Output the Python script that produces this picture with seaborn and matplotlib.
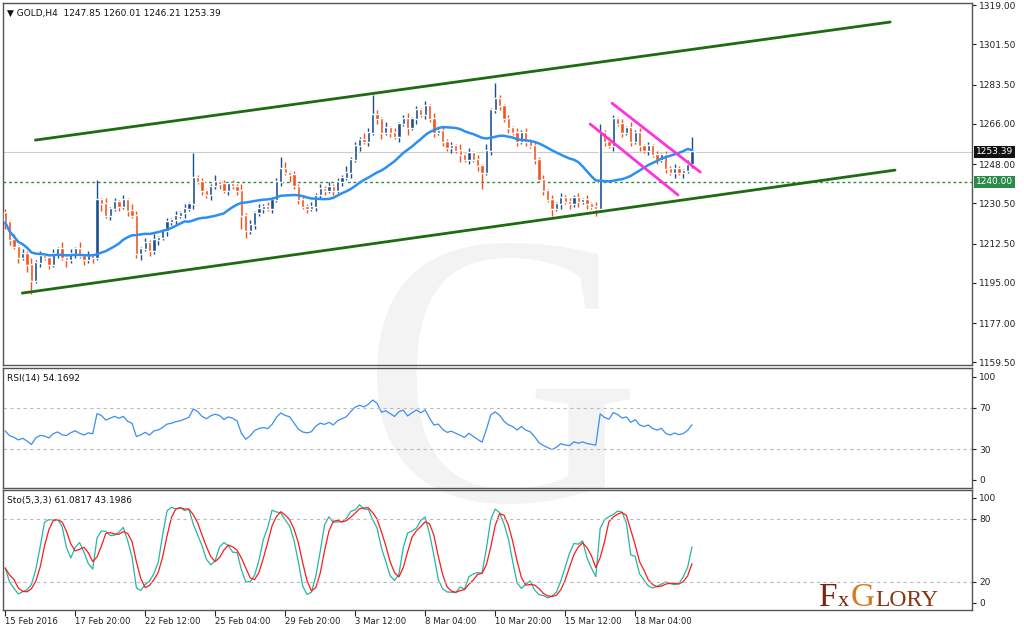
import numpy as np
import pandas as pd
import matplotlib
matplotlib.use("Agg")
import matplotlib.pyplot as plt
import matplotlib.transforms as mtrans
import seaborn as sns

closes = [1222,1214,1211,1206,1208,1203,1196,1204,1207,1206,
          1203,1208,1210,1206,1205,1208,1210,1207,1205,1207,
          1206,1232,1230,1225,1228,1231,1229,1232,1227,1225,
          1208,1210,1213,1209,1214,1215,1218,1222,1223,1225,
          1226,1228,1230,1242,1240,1236,1234,1238,1240,1239,
          1236,1239,1238,1236,1225,1218,1221,1226,1228,1229,
          1228,1232,1240,1246,1244,1243,1238,1232,1229,1228,
          1229,1234,1237,1236,1238,1236,1240,1242,1244,1250,
          1256,1259,1258,1262,1270,1268,1262,1264,1262,1260,
          1266,1268,1264,1268,1272,1270,1274,1268,1262,1263,
          1258,1255,1256,1254,1252,1250,1253,1250,1247,1244,
          1254,1272,1277,1274,1268,1264,1262,1258,1262,1258,
          1256,1250,1241,1236,1232,1228,1230,1233,1231,1230,
          1233,1231,1232,1230,1229,1228,1262,1258,1256,1268,
          1266,1262,1264,1258,1262,1256,1254,1256,1252,1250,
          1252,1246,1244,1246,1244,1245,1247.85,1253.39]
first_open = 1226.0
wick_up = [2,1,3,1,2,1,3,1,2,1, 1,2,1,3,1,2,1,3,1,2,
           1,9,1,3,1,2,1,2,1,3, 2,1,2,1,3,1,1,2,1,2,
           1,2,1,11,1,2,1,1,3,1, 2,1,2,1,3,1,2,1,2,1,
           2,1,2,5,3,1,2,1,2,1, 2,1,2,1,2,1,2,1,3,1,
           2,1,3,2,9,2,1,3,1,2, 1,2,3,1,2,1,2,1,3,1,
           2,1,2,1,3,1,2,1,2,1, 3,1,7,2,1,2,1,2,1,2,
           1,2,1,2,1,2,1,2,1,2, 1,2,1,2,1,2,4,1,2,2,
           1,2,1,3,1,2,1,2,1,2, 1,2,1,2,1,1,2,6.62]
wick_dn = [3,2,1,2,1,3,6,1,2,1, 2,1,2,1,3,1,2,1,2,1,
           2,1,3,1,2,1,2,1,2,1, 2,3,1,2,1,2,1,2,1,2,
           1,2,1,2,1,2,1,2,1,2, 1,2,1,2,6,3,1,2,1,2,
           1,2,1,2,1,3,1,2,1,2, 1,2,1,2,1,2,1,2,1,2,
           1,2,1,2,1,2,3,1,2,1, 2,1,3,1,2,1,2,1,2,1,
           2,1,2,1,3,1,2,1,2,7, 1,2,1,2,1,2,1,2,1,2,
           1,2,1,2,1,3,1,2,1,2, 1,2,1,2,1,3,1,2,1,2,
           1,2,1,2,1,2,1,2,1,2, 1,2,1,2,1,2,1,1.64]

xtick_labels = ["15 Feb 2016","17 Feb 20:00","22 Feb 12:00","25 Feb 04:00","29 Feb 20:00",
                "3 Mar 12:00","8 Mar 04:00","10 Mar 20:00","15 Mar 12:00","18 Mar 04:00"]
xtick_pos = [0,16,32,48,64,80,96,112,128,144]
price_ticks = [1319.0,1301.5,1283.5,1266.0,1248.0,1230.5,1212.5,1195.0,1177.0,1159.5]
upper_channel = [(6.9,1258.7),(202.3,1311.4)]
lower_channel = [(3.9,1190.4),(203.4,1245.3)]
flag_upper = [(138.7,1275.2),(158.9,1244.4)]
flag_lower = [(133.7,1265.9),(153.8,1234.2)]
support_level = 1240.0
last_price = 1253.39

n = len(closes)
c = np.array(closes, float)
o = np.concatenate([[first_open], c[:-1]])
o[-1] = 1247.85
h = np.maximum(o, c) + np.array(wick_up[:n], float)
l = np.minimum(o, c) - np.array(wick_dn[:n], float)
idx = np.arange(n)
df = pd.DataFrame({"i": idx, "o": o, "h": h, "l": l, "c": c})
df["ma"] = df["c"].rolling(21, min_periods=1).mean()

# Wilder RSI, seeded with neutral averages
d = np.diff(c, prepend=first_open)
g_avg, l_avg = 3.0, 3.0
rsi = []
for dv in d:
    g_avg = (g_avg*13 + max(dv, 0))/14
    l_avg = (l_avg*13 + max(-dv, 0))/14
    rsi.append(100 - 100/(1 + g_avg/l_avg))
df["rsi"] = rsi
hh = df["h"].rolling(5, min_periods=1).max()
ll = df["l"].rolling(5, min_periods=1).min()
num = (df["c"] - ll).rolling(3, min_periods=1).sum()
den = (hh - ll).rolling(3, min_periods=1).sum()
df["k"] = 100*num/den
df["dd"] = df["k"].rolling(3, min_periods=1).mean()

sns.set_style("white")
plt.rcParams["font.family"] = ["DejaVu Sans"]
fig = plt.figure(figsize=(10.24, 6.36), dpi=100)
W, H = 1024, 636
def axbox(x0, y0, x1, y1):
    return [x0/W, 1-y1/H, (x1-x0)/W, (y1-y0)/H]
ax = fig.add_axes(axbox(3, 3, 972, 365))
ax_r = fig.add_axes(axbox(3, 368, 972, 488))
ax_s = fig.add_axes(axbox(3, 490, 972, 610))

fig.text(0.49, 0.36, "G", fontsize=280, color="#f3f3f3", ha="center", va="center",
         family="Liberation Serif", zorder=0)
for a in (ax, ax_r, ax_s):
    a.set_zorder(2)
    a.set_facecolor("none")
    a.set_xlim(-0.5, 221)
    for s in a.spines.values():
        s.set_color("#555555"); s.set_linewidth(1)
    a.yaxis.tick_right()
    a.tick_params(axis="y", labelsize=6.5, length=3, pad=2, colors="#222222", direction="out", right=True)
    a.set_xticks([])

# candles
up = c >= o
col = np.where(up, "#1a4f8f", "#f4511e")
ax.vlines(idx, l, h, colors=col, linewidth=1.0, zorder=3)
ax.bar(idx, np.abs(c-o)+0.4, bottom=np.minimum(o, c), width=0.75, color=col, zorder=4)
sns.lineplot(data=df, x="i", y="ma", ax=ax, color="#2d8ff0", linewidth=1.8, zorder=5)
for seg, colr in ((upper_channel, "#1e6b12"), (lower_channel, "#1e6b12"),
                  (flag_upper, "#ff33dd"), (flag_lower, "#ff33dd")):
    ax.plot([seg[0][0], seg[1][0]], [seg[0][1], seg[1][1]], color=colr, linewidth=2, zorder=6)
ax.axhline(support_level, color="#2e8b3e", linestyle=(0, (2, 2)), linewidth=1, zorder=2)
ax.axhline(last_price, color="#cccccc", linewidth=0.8, zorder=1)
ax.set_ylim(1158.3, 1319.9)
ax.set_yticks(price_ticks)
ax.set_yticklabels([f"{v:.2f}" for v in price_ticks])
ax.set_xlabel(""); ax.set_ylabel("")
tr = mtrans.blended_transform_factory(ax.transAxes, ax.transData)
ax.text(1.004, last_price, f"{last_price:.2f}", transform=tr, fontsize=6.5, color="white",
        va="center", ha="left", bbox=dict(boxstyle="square,pad=0.2", fc="#111111", ec="none"), zorder=10)
ax.text(1.004, support_level, f"{support_level:.2f}", transform=tr, fontsize=6.5, color="white",
        va="center", ha="left", bbox=dict(boxstyle="square,pad=0.2", fc="#2a8a4a", ec="none"), zorder=10)
ax.text(0.004, 0.985, "\u25BC GOLD,H4  1247.85 1260.01 1246.21 1253.39", transform=ax.transAxes,
        fontsize=6.5, va="top", ha="left", color="#111111")

# RSI
sns.lineplot(data=df, x="i", y="rsi", ax=ax_r, color="#3a8ef0", linewidth=0.9)
ax_r.set_ylim(-7.8, 108.7)
ax_r.set_yticks([100, 70, 30, 0])
for v in (70, 30):
    ax_r.axhline(v, color="#bbbbbb", linestyle=(0, (3, 3)), linewidth=0.8)
ax_r.text(0.004, 0.95, "RSI(14) 54.1692", transform=ax_r.transAxes,
          fontsize=6.5, va="top", ha="left", color="#111111")
ax_r.set_xlabel(""); ax_r.set_ylabel(""); ax_r.set_xticks([])

# Stochastic
sns.lineplot(data=df, x="i", y="k", ax=ax_s, color="#26b5a5", linewidth=0.9)
sns.lineplot(data=df, x="i", y="dd", ax=ax_s, color="#ff1a1a", linewidth=0.9)
ax_s.set_ylim(-6.7, 107.6)
ax_s.set_yticks([100, 80, 20, 0])
for v in (80, 20):
    ax_s.axhline(v, color="#bbbbbb", linestyle=(0, (3, 3)), linewidth=0.8)
ax_s.text(0.004, 0.95, "Sto(5,3,3) 61.0817 43.1986",
          transform=ax_s.transAxes, fontsize=6.5, va="top", ha="left", color="#111111")
ax_s.set_xlabel(""); ax_s.set_ylabel("")
ax_s.set_xticks(xtick_pos)
ax_s.set_xticklabels(xtick_labels, ha="left")
ax_s.tick_params(axis="x", labelsize=6.1, length=4, pad=1, direction="out", bottom=True, colors="#222222")
for a in (ax, ax_r):
    a.tick_params(axis="x", bottom=False, labelbottom=False)

# logo
fy = 1 - 606/H
fig.text(818/W, fy, "F", fontsize=24, color="#7a2410", family="Liberation Serif", ha="left", va="baseline", zorder=3)
fig.text(838/W, fy, "x", fontsize=16, color="#7a2410", family="Liberation Serif", ha="left", va="baseline", zorder=3)
fig.text(851/W, fy, "G", fontsize=24, color="#d9781c", family="Liberation Serif", ha="left", va="baseline", zorder=3)
fig.text(875/W, fy, "LORY", fontsize=17, color="#8a3412", family="Liberation Serif", ha="left", va="baseline", zorder=3)

fig.savefig("out.png", dpi=100)
